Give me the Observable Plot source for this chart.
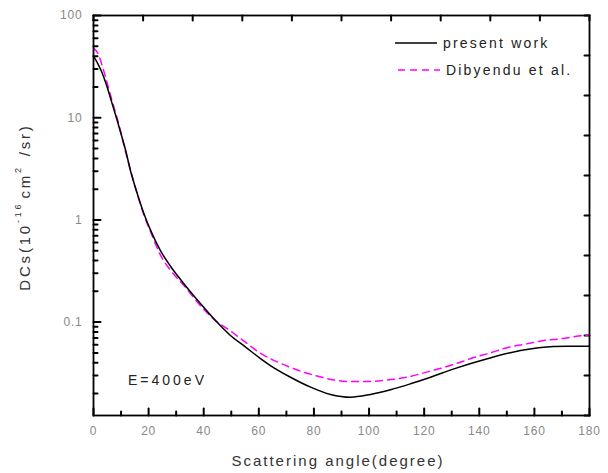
<!DOCTYPE html>
<html>
<head>
<meta charset="utf-8">
<script src="https://cdn.jsdelivr.net/npm/d3@7"></script>
<script src="https://cdn.jsdelivr.net/npm/@observablehq/plot@0.6"></script>
<style>
  html, body { margin: 0; padding: 0; background: #fff; }
  #chart { width: 608px; height: 473px; }
</style>
</head>
<body>
<div id="chart"></div>
<script>
// ---- data ----
const presentAngle = [0, 1.5, 3, 4.8, 6.6, 8.5, 10.3, 11.5, 13.4, 15.9, 18.3, 21.3, 24.3, 28, 32.5, 38.8, 43.1, 49.7, 55.2, 60.6, 64.2, 71.5, 78.8, 86, 93.3, 100.5, 107.8, 115, 122.3, 130.8, 142.9, 155, 167, 172, 180];
const presentDCS   = [40, 34, 28, 20.5, 14.2, 9.6, 6.5, 5.0, 3.04, 1.8, 1.15, 0.73, 0.5, 0.35, 0.243, 0.152, 0.112, 0.074, 0.057, 0.044, 0.0376, 0.0289, 0.0231, 0.0196, 0.0184, 0.0196, 0.0218, 0.0249, 0.0289, 0.0349, 0.0438, 0.0527, 0.0577, 0.058, 0.058];

const dibAngle = [0, 1.5, 4, 5.7, 7.6, 9.3, 11, 13.4, 16, 18.3, 21.3, 24, 28, 33, 38.8, 44, 49.7, 55, 60.6, 67.9, 74.5, 80.6, 87.2, 93.3, 99.9, 106.6, 112.6, 119.3, 125.3, 132, 138, 144, 150.7, 156.8, 163.4, 169.4, 176, 180];
const dibDCS   = [48, 43, 27, 18.5, 12.2, 8.4, 5.4, 3.1, 1.75, 1.12, 0.70, 0.47, 0.32, 0.225, 0.145, 0.105, 0.082, 0.064, 0.0495, 0.0396, 0.0336, 0.030, 0.0272, 0.0262, 0.0262, 0.0272, 0.0285, 0.0316, 0.0349, 0.0396, 0.045, 0.050, 0.0568, 0.061, 0.066, 0.0686, 0.073, 0.075];

const xTickLabels = [0, 20, 40, 60, 80, 100, 120, 140, 160, 180];
const xMinorTicks = [10, 30, 50, 70, 90, 110, 130, 150, 170];
const yTickLabels = [0.1, 1, 10, 100];
const yDomain = [0.0122, 100];
const xDomain = [0, 180];
const seriesNames = ["present work", "Dibyendu et al."];
const energyLabel = "E=400eV";

// ---- derived tables ----
const present = presentAngle.map((a, i) => ({angle: a, dcs: presentDCS[i]}));
const dib = dibAngle.map((a, i) => ({angle: a, dcs: dibDCS[i]}));
const yMinorTicks = [0.01, 0.1, 1, 10].flatMap(d => [2,3,4,5,6,7,8,9].map(k => +(k * d).toPrecision(3))).filter(v => v >= yDomain[0] && v <= yDomain[1]);
const xTopTicks = d3.range(0, 11).map(k => k * 18);
const l0 = Math.log10(yDomain[0]), l1 = Math.log10(yDomain[1]);
const yRightTicks = d3.range(0, 11).map(k => Math.pow(10, l0 + k * (l1 - l0) / 10));

const W = 608, H = 473, mL = 93, mR = 19, mT = 15, mB = 58;
const font = "'Liberation Sans', Arial, sans-serif";

// straight tick shape for vector marks (same idea as Plot's own axis ticks)
const tickShape = {draw(context, l) { context.moveTo(0, 0); context.lineTo(0, -l); }};
const tk = {shape: tickShape, anchor: "start", stroke: "black", strokeWidth: 2};

const chart = Plot.plot({
  width: W, height: H,
  marginLeft: mL, marginRight: mR, marginTop: mT, marginBottom: mB,
  style: {fontFamily: font, fontSize: "12px", color: "#888", background: "white", letterSpacing: "0.8px"},
  x: {domain: xDomain, ticks: xTickLabels, tickSize: 0, tickPadding: 11, label: null, tickFormat: d => String(d)},
  y: {type: "log", domain: yDomain, ticks: yTickLabels, tickSize: 0, tickPadding: 11, label: null, tickFormat: d => String(d)},
  marks: [
    // inward tick marks (bottom, top, left, right)
    Plot.vector(xTickLabels, {x: d => d, y: yDomain[0], length: 7, rotate: 0, ...tk}),
    Plot.vector(xMinorTicks, {x: d => d, y: yDomain[0], length: 4, rotate: 0, ...tk}),
    Plot.vector(xTopTicks, {x: d => d, y: yDomain[1], length: 5, rotate: 180, ...tk}),
    Plot.vector(yTickLabels, {x: xDomain[0], y: d => d, length: 7, rotate: 90, ...tk}),
    Plot.vector(yMinorTicks, {x: xDomain[0], y: d => d, length: 4, rotate: 90, ...tk}),
    Plot.vector(yRightTicks, {x: xDomain[1], y: d => d, length: 5, rotate: -90, ...tk}),
    // curves
    Plot.line(dib, {x: "angle", y: "dcs", stroke: "#ff00ff", strokeWidth: 1.5, strokeDasharray: "7,5", curve: "monotone-x"}),
    Plot.line(present, {x: "angle", y: "dcs", stroke: "black", strokeWidth: 1.5, curve: "monotone-x"}),
    Plot.frame({stroke: "black", strokeWidth: 1.8})
  ]
});

document.getElementById("chart").appendChild(chart);

// ---- labels, legend, annotation ----
const svg = d3.select(chart);
const txt = (x, y, s, opts = {}) => svg.append("text")
  .attr("x", x).attr("y", y)
  .attr("font-family", font)
  .attr("font-size", opts.size || 14)
  .attr("letter-spacing", opts.ls || "2px")
  .attr("fill", opts.fill || "#222")
  .attr("text-anchor", opts.anchor || "start")
  .attr("dominant-baseline", "central")
  .text(s);

// x axis title
txt(338, 460, "Scattering angle(degree)", {size: 15, ls: "2px", anchor: "middle", fill: "#333"});

// y axis title with superscripts
const yl = svg.append("text")
  .attr("transform", "translate(24,207) rotate(-90)")
  .attr("font-family", font).attr("font-size", 15)
  .attr("letter-spacing", "2.8px").attr("fill", "#333")
  .attr("text-anchor", "middle").attr("dominant-baseline", "central");
yl.append("tspan").text("DCs(10");
yl.append("tspan").attr("dy", -6).attr("font-size", 9).text("-16");
yl.append("tspan").attr("dy", 6).attr("dx", 3).text("cm");
yl.append("tspan").attr("dy", -6).attr("font-size", 9).text("2");
yl.append("tspan").attr("dy", 6).attr("dx", 2).text(" /sr)");

// legend
svg.append("line").attr("x1", 395).attr("x2", 437).attr("y1", 43).attr("y2", 43)
  .attr("stroke", "black").attr("stroke-width", 1.5);
txt(443, 43, seriesNames[0], {size: 14, ls: "2.2px"});
svg.append("line").attr("x1", 398).attr("x2", 440).attr("y1", 70).attr("y2", 70)
  .attr("stroke", "#ff00ff").attr("stroke-width", 1.5).attr("stroke-dasharray", "7,5");
txt(446, 70, seriesNames[1], {size: 14, ls: "2.2px"});

// energy annotation
txt(128, 380, energyLabel, {size: 14, ls: "3px"});
</script>
</body>
</html>
